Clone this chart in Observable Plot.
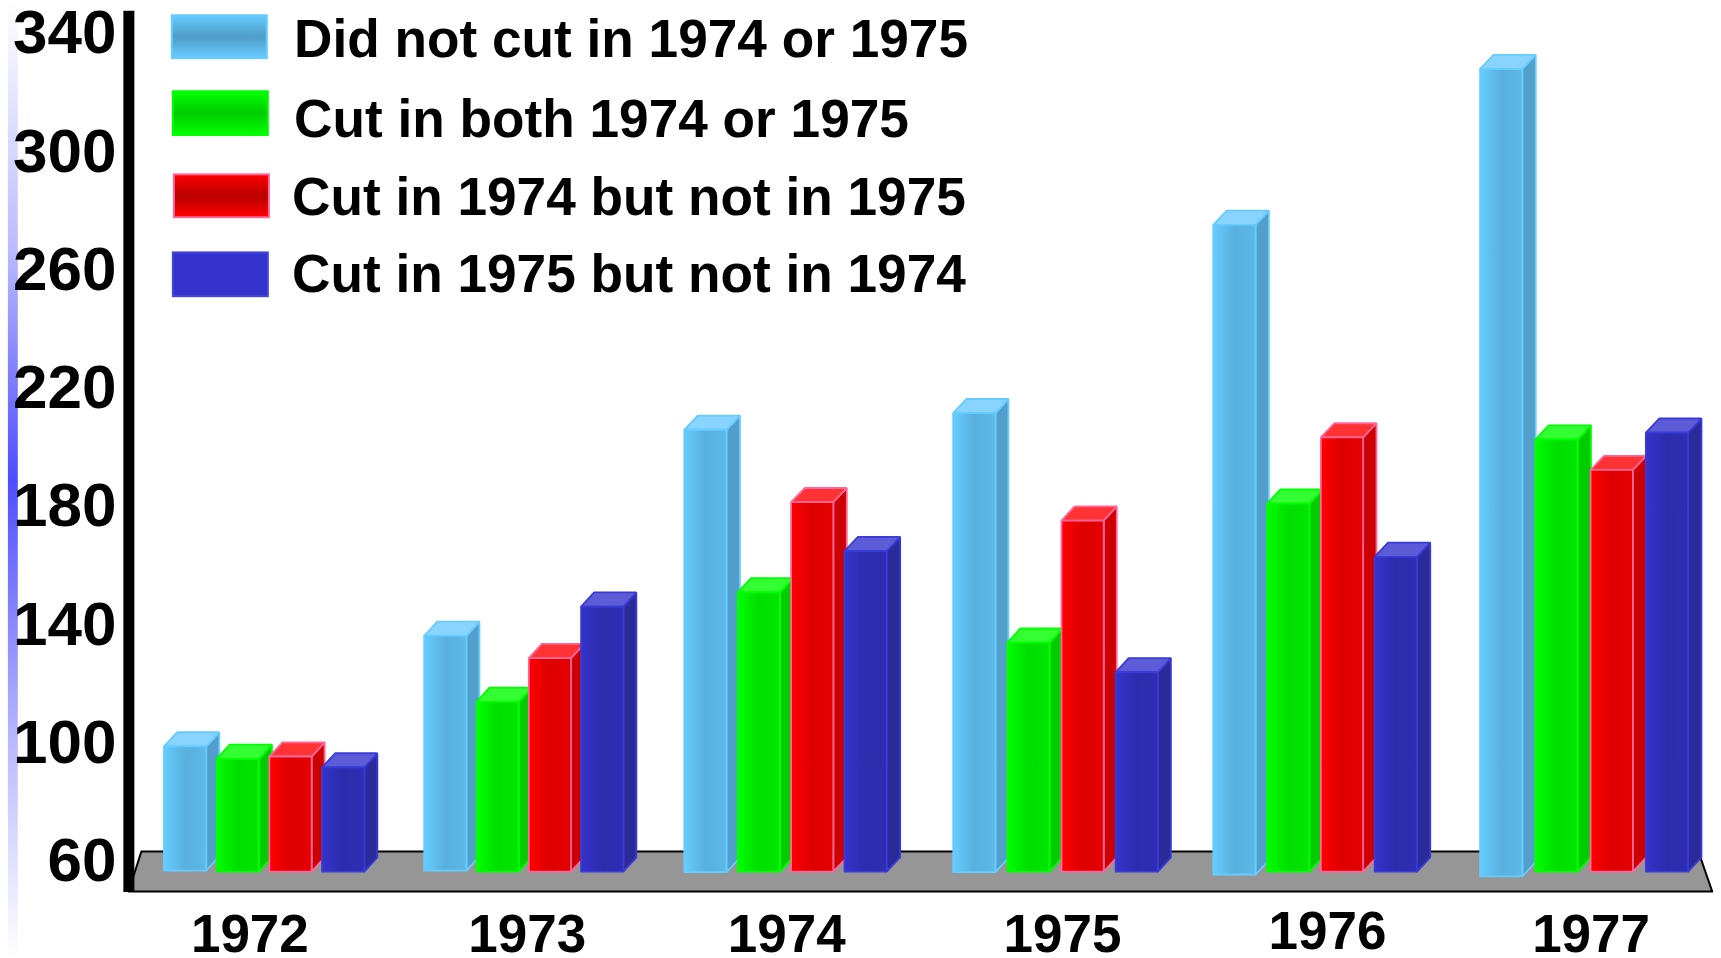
<!DOCTYPE html>
<html>
<head>
<meta charset="utf-8">
<script src="https://cdn.jsdelivr.net/npm/d3@7"></script>
<script src="https://cdn.jsdelivr.net/npm/@observablehq/plot@0.6"></script>
<style>
  html, body { margin: 0; background: #fff; }
  svg { display: block; }
</style>
</head>
<body>
<script>
const years = [1972, 1973, 1974, 1975, 1976, 1977];
const seriesNames = [
  "Did not cut in 1974 or 1975",
  "Cut in both 1974 or 1975",
  "Cut in 1974 but not in 1975",
  "Cut in 1975 but not in 1974"
];
const yTicks = [60, 100, 140, 180, 220, 260, 300, 340];

const notCut = [98.9, 136.3, 206, 211.6, 275.3, 328];
const cutBoth = [94.7, 114, 151, 134, 181, 202.7];
const cut1974 = [95.5, 128.8, 181.5, 175.3, 203.4, 192.4];
const cut1975 = [91.8, 146.2, 165, 124, 163, 205];
const seriesValues = [notCut, cutBoth, cut1974, cut1975];

// Look of each series: gradient ids plus side, top and outline colours.
const paints = [
  {key: "sky", front: ["#66ccff", "#58b0dd", "#5db8e8"], swatch: ["#66ccff", "#4f9dc8", "#66ccff"], side: "#529fcc", top: "#88d4ff", edge: "#66ccff"},
  {key: "lime", front: ["#00ff00", "#00dd00", "#00e600"], swatch: ["#00ff00", "#00cc00", "#00ff00"], side: "#00cc00", top: "#33ff33", edge: "#00ff00"},
  {key: "scarlet", front: ["#ff0000", "#dd0000", "#e60000"], swatch: ["#ff0000", "#bb0000", "#ff0000"], side: "#cc0000", top: "#ff3333", edge: "#ff6699"},
  {key: "indigo", front: ["#3333cc", "#2c2cab", "#2e2eb5"], swatch: ["#3333cc", "#3333cc", "#3333cc"], side: "#2a2a99", top: "#5c5cd6", edge: "#3a3ad8"}
];

// Chart geometry in data units: years run along x, the value axis along y.
const slotSteps = [0.2025, 0.2011, 0.1986, 0.2082, 0.2016, 0.2071];
const barWidths = [0.1624, 0.1624, 0.157, 0.1624, 0.1584, 0.1584];
const depthX = 0.05;
const depthY = 4.8;
const floorValue = 56.6;
const skyBase = [56.9, 56.9, 56.4, 56.4, 55.6, 55];

const faces = [];
years.forEach((year, i) => {
  seriesValues.forEach((values, s) => {
    const x0 = year + s * slotSteps[i];
    const x1 = x0 + barWidths[i];
    const base = s === 0 ? skyBase[i] : floorValue;
    const top = values[i];
    const p = paints[s];
    const face = (name, fill, corners) => {
      for (const [x, y] of corners) faces.push({face: `${year}-${s}-${name}`, x, y, fill, edge: p.edge});
    };
    face("side", p.side, [[x1, base], [x1 + depthX, base + depthY], [x1 + depthX, top + depthY], [x1, top], [x1, base]]);
    face("top", p.top, [[x0, top], [x0 + depthX, top + depthY], [x1 + depthX, top + depthY], [x1, top], [x0, top]]);
    face("front", `url(#front-${p.key})`, [[x0, base], [x0, top], [x1, top], [x1, base], [x0, base]]);
  });
});

// Floor of the chart, seen in perspective.
const floor = [
  {x: 1971.913, y: 63.4},
  {x: 1977.818, y: 63.4},
  {x: 1977.87, y: 49.85},
  {x: 1971.864, y: 49.85},
  {x: 1971.913, y: 63.4}
];

const legendRows = seriesNames.map((name, s) => ({
  name,
  key: paints[s].key,
  edge: s === 1 ? "#00ff00" : s === 3 ? "#4444dd" : paints[s].edge,
  x1: [1972.032, 1972.036, 1972.04, 1972.036][s],
  top: [346, 320.3, 292.2, 265.8][s],
  bottom: [331.5, 305.5, 277.7, 251][s],
  textX: [1972.5, 1972.5, 1972.492, 1972.492][s],
  textY: [337.9, 310.9, 284.4, 258.3][s]
}));

const yearLabels = years.map((year, i) => ({
  year,
  x: year + [0.33, 0.396, 0.381, 0.42, 0.428, 0.416][i],
  y: i === 4 ? 36.3 : 35.3
}));

const gradient = (id, stops, vertical) =>
  `<linearGradient id="${id}" x1="0" y1="0" x2="${vertical ? 0 : 1}" y2="${vertical ? 1 : 0}">` +
  stops.map((c, k) => `<stop offset="${k / (stops.length - 1)}" stop-color="${c}"/>`).join("") +
  `</linearGradient>`;

const defs = () => {
  const node = d3.create("svg:defs");
  node.html(
    paints.map(p => gradient(`front-${p.key}`, p.front, false) + gradient(`swatch-${p.key}`, p.swatch, true)).join("") +
    `<linearGradient id="strip" x1="0" y1="0" x2="0" y2="1">
       <stop offset="0" stop-color="#ffffff"/>
       <stop offset="0.26" stop-color="#bbbbff"/>
       <stop offset="0.5" stop-color="#4d4dff"/>
       <stop offset="0.78" stop-color="#bbbbff"/>
       <stop offset="1" stop-color="#ffffff"/>
     </linearGradient>`
  );
  return node.node();
};

const font = "Liberation Sans, Arial, sans-serif";

const plot = Plot.plot({
  width: 1721,
  height: 958,
  marginLeft: 116,
  marginTop: 0,
  marginRight: 0,
  marginBottom: 0,
  style: {background: "#fff", fontFamily: font, overflow: "visible"},
  x: {type: "linear", domain: years, range: [163.5, 423.7, 683.8, 952.7, 1212.8, 1479.6], axis: null},
  y: {domain: [60, 340], range: [861, 33], axis: null},
  marks: [
    defs,
    Plot.rect([0], {x1: 1971.402, x2: 1971.44, y1: 27.2, y2: 351.2, fill: "url(#strip)"}),
    Plot.line(floor, {x: "x", y: "y", fill: "#969696", stroke: "#000", strokeWidth: 2}),
    Plot.ruleX([1971.865], {y1: 49.5, y2: 347.5, stroke: "#000", strokeWidth: 11}),
    Plot.line(faces, {x: "x", y: "y", z: "face", fill: "fill", stroke: "edge", strokeWidth: 1.8, strokeLinejoin: "miter"}),
    Plot.rect(legendRows, {x1: "x1", x2: d => d.x1 + 0.365, y1: "bottom", y2: "top", fill: d => `url(#swatch-${d.key})`, stroke: "edge", strokeWidth: 2}),
    Plot.text(legendRows, {x: "textX", y: "textY", text: "name", textAnchor: "start", fontSize: 53.2, fontWeight: "bold", fill: "#000"}),
    Plot.text(yearLabels, {x: "x", y: "y", text: d => String(d.year), fontSize: 53, fontWeight: "bold", fill: "#000"}),
    Plot.axisY(yTicks, {anchor: "left", tickSize: 0, tickPadding: 0, tickFormat: d => String(d), fontSize: 62, fontWeight: "bold", fill: "#000", label: null})
  ]
});
document.body.appendChild(plot);
</script>
</body>
</html>
